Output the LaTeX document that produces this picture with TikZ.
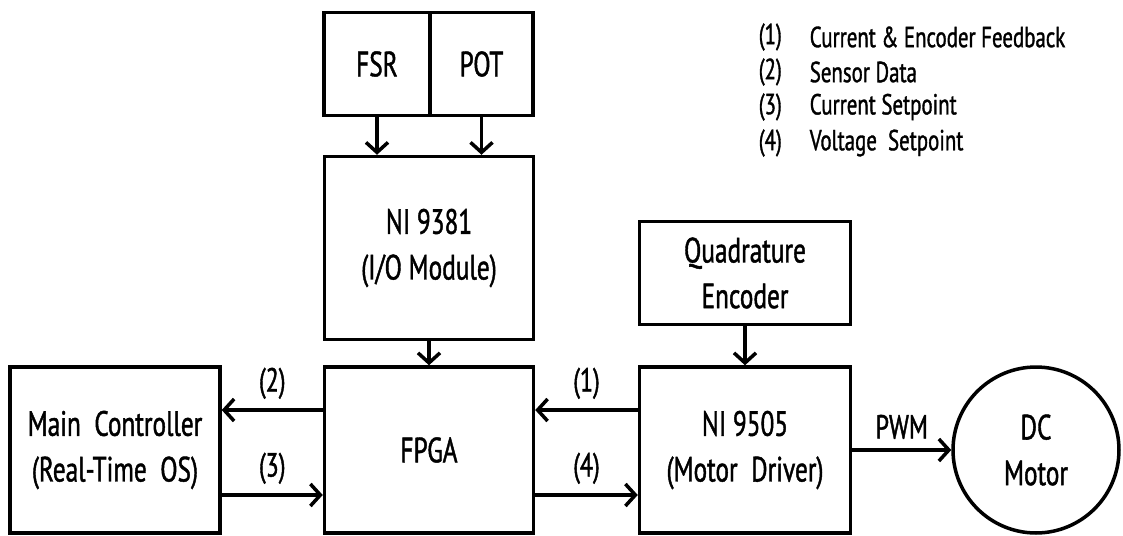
\documentclass[tikz,border=0pt]{standalone}
\usepackage{fontspec}
\setmainfont{PT Sans}[FakeStretch=0.72, FakeBold=1.2]
\usepackage{tikz}
\usetikzlibrary{positioning, arrows.meta}

\begin{document}
\begin{tikzpicture}[x=0.02cm, y=-0.02cm, >={Straight Barb[length=2mm, width=4.4mm, line width=2pt]},
    line width=2pt,
    block/.style={draw, rectangle, align=center, font=\fontsize{20}{26}\selectfont, inner sep=0pt},
    lbl/.style={font=\fontsize{19}{22}\selectfont},
    legend/.style={anchor=west, font=\fontsize{16.5}{18}\selectfont, inner sep=0pt}]
    \useasboundingbox (0, 0) rectangle (1123, 535);

    % Sensors
    \node[block, minimum width=2.12cm, minimum height=2.06cm] (fsr) at (377, 64) {FSR};
    \node[block, minimum width=2.06cm, minimum height=2.06cm] (pot) at (481.5, 64) {POT};

    % Modules
    \node[block, minimum width=4.18cm, minimum height=3.66cm] (ni9381) at (429, 248) {NI 9381\\(I/O Module)};
    \node[block, minimum width=4.18cm, minimum height=3.32cm] (fpga) at (429, 450) {FPGA};
    \node[block, minimum width=4.2cm, minimum height=3.32cm] (main) at (115, 450) {Main\ \ Controller\\(Real-Time\ \ OS)};
    \node[block, minimum width=4.22cm, minimum height=3.32cm] (ni9505) at (745, 450) {NI 9505\\(Motor\ \ Driver)};
    \node[block, minimum width=4.22cm, minimum height=2.06cm] (enc) at (745, 273) {Quadrature\\Encoder};
    \node[block, circle, minimum size=3.32cm] (motor) at (1036, 450) {DC\\Motor};

    % Sensors to I/O module
    \draw[->] (fsr.south) -- (fsr.south |- ni9381.north);
    \draw[->] (pot.south) -- (pot.south |- ni9381.north);
    \draw[->] (ni9381) -- (fpga);
    \draw[->] (enc) -- (ni9505);

    % FPGA to main controller
    \draw[->] ([yshift=0.8cm]fpga.west) -- node[lbl, above=2pt] {(2)} ([yshift=0.8cm]main.east);
    \draw[->] ([yshift=-0.9cm]main.east) -- node[lbl, above=2pt] {(3)} ([yshift=-0.9cm]fpga.west);

    % FPGA to motor driver
    \draw[->] ([yshift=0.8cm]ni9505.west) -- node[lbl, above=2pt] {(1)} ([yshift=0.8cm]fpga.east);
    \draw[->] ([yshift=-0.9cm]fpga.east) -- node[lbl, above=2pt] {(4)} ([yshift=-0.9cm]ni9505.west);
    \draw[->] (ni9505) -- node[lbl, above=2pt] {PWM} (motor);

    % Legend
    \node[legend] (n1) at (757, 37) {(1)};
    \node[legend] (n2) at (757, 72) {(2)};
    \node[legend] (n3) at (757, 107) {(3)};
    \node[legend] (n4) at (757, 143) {(4)};
    \node[legend] (t1) at (808, 37) {Current \& Encoder Feedback};
    \node[legend] (t2) at (808, 72) {Sensor Data};
    \node[legend] (t3) at (808, 107) {Current Setpoint};
    \node[legend] (t4) at (808, 143) {Voltage\ \ Setpoint};
\end{tikzpicture}
\end{document}
